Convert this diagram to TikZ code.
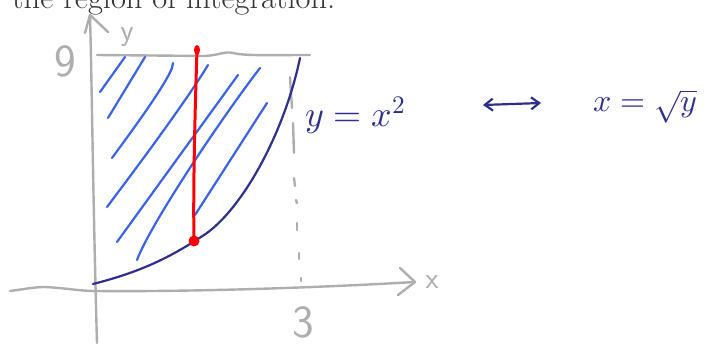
\documentclass[tikz,border=0pt]{standalone}
\usepackage{fontspec}
\usepackage{unicode-math}
\usetikzlibrary{arrows.meta}
\definecolor{axgray}{HTML}{AEAEAE}
\definecolor{hatch}{HTML}{3A63E8}
\definecolor{navy}{HTML}{2E2E8F}
\begin{document}
\begin{tikzpicture}[x=1pt,y=-1pt,line cap=round,line join=round,
  axis/.style={axgray,line width=2.4pt},
  hatchline/.style={hatch,line width=2.2pt},
  curveline/.style={navy,line width=2.2pt},
  redline/.style={red,line width=3pt},
  glabel/.style={axgray,font=\sffamily\fontsize{46}{50}\selectfont,inner sep=0pt},
  hand/.style={navy,inner sep=0pt,font=\fontsize{36}{40}\selectfont}]
\useasboundingbox (0,0) rectangle (707,347);
% caption text (cut off at top)
\node[anchor=base west,inner sep=0pt,text=black!80,font=\fontsize{32.5}{38}\selectfont] (cap) at (12,9) {the region of integration.};
% y-axis
\coordinate (ytop) at (90,15);
\coordinate (ybot) at (97,343);
\draw[axis] (ybot) .. controls (93,200) and (92,90) .. (ytop);
\draw[axis] (85,33) -- (ytop) -- (108,32);
\node[glabel,font=\sffamily\fontsize{30}{34}\selectfont] (ylab) at (127,37) {y};
% x-axis
\coordinate (xl) at (10,291);
\coordinate (xr) at (415,282);
\draw[axis] (xl) .. controls (25,289) and (35,287) .. (45,287) .. controls (65,288) and (80,291) .. (95,291) .. controls (200,292) and (330,287) .. (xr);
\draw[axis] (400,268) -- (xr) -- (398,295);
\node[glabel,font=\sffamily\fontsize{30}{34}\selectfont] (xlab) at (432,282) {x};
% y = 9 line
\coordinate (nl) at (97,55);
\coordinate (nr) at (310,55);
\draw[axis] (nl) -- (205,56) .. controls (220,55) and (225,51) .. (233,53) .. controls (245,56) and (270,55) .. (nr);
\node[glabel] (nine) at (65,61) {9};
% dashed x = 3
\draw[axis] (290,77) -- (292,108);
\draw[axis] (293,123) -- (294,153);
\draw[axis] (294,178) -- (295,186);
\draw[axis] (296,200) -- (297,203);
\draw[axis] (297,223) -- (297,230);
\draw[axis] (299,253) -- (299,259);
\draw[axis] (301,278) -- (301,281);
\node[glabel] (three) at (303,322) {3};
% hatching
\draw[hatchline] (100,92) -- (125,57);
\draw[hatchline] (108,118) -- (145,57);
\draw[hatchline] (112,158) .. controls (140,120) and (165,85) .. (172,68) -- (173,63);
\draw[hatchline] (107,207) .. controls (150,150) and (190,95) .. (208,65);
\draw[hatchline] (117,242) -- (238,75);
\draw[hatchline] (137,260) .. controls (150,225) and (220,120) .. (260,68);
\draw[hatchline] (195,215) -- (267,103);
% curve y = x^2
\coordinate (c0) at (93,284);
\coordinate (cm) at (207,233);
\coordinate (c1) at (300,58);
\draw[curveline] (c0) .. controls (140,272) and (170,258) .. (cm) .. controls (245,205) and (285,130) .. (c1);
% red line
\coordinate (rt) at (197,50);
\coordinate (rb) at (194,241);
\draw[redline] (rt) .. controls (195,110) and (193,190) .. (rb);
\fill[red] (rb) circle (5.5pt);
\fill[red] (rt) ellipse (3pt and 5pt);
% equations
\node[hand,anchor=base west] (eq1) at (305,127) {$y=x^2$};
\coordinate (al) at (483,105);
\coordinate (ar) at (541,103);
\draw[navy,line width=2.2pt,{Straight Barb[length=8pt,width=12pt]}-{Straight Barb[length=8pt,width=12pt]}] (al) -- (ar);
\node[hand,anchor=base west,font=\fontsize{32}{36}\selectfont] (eq2) at (593,112) {$x=\sqrt{y}$};
\end{tikzpicture}
\end{document}
